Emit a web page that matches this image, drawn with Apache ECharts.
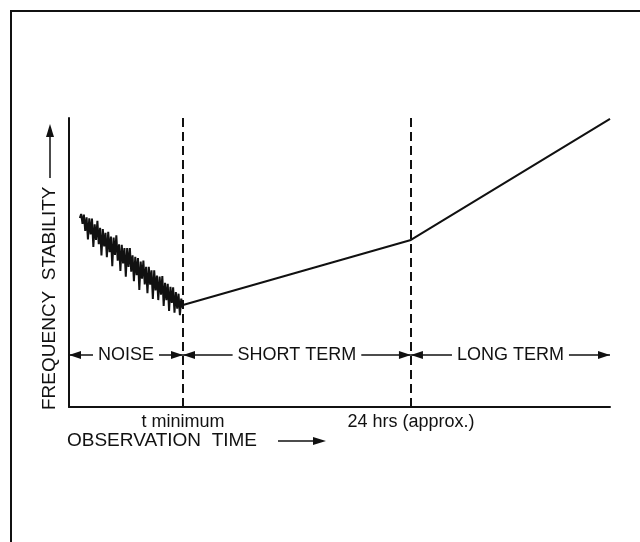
<!DOCTYPE html>
<html>
<head>
<meta charset="utf-8">
<script src="https://cdn.jsdelivr.net/npm/echarts@6/dist/echarts.min.js"></script>
<style>
  html, body { margin: 0; padding: 0; background: #fff; }
  #chart { width: 640px; height: 542px; }
</style>
</head>
<body>
<div id="chart"></div>
<script>
// boundaries on the observation-time axis (arbitrary units 0..100)
const tickValues = [21.07, 63.2];
const tickNames = ['t minimum', '24 hrs (approx.)'];

const regionNames = ['NOISE', 'SHORT TERM', 'LONG TERM'];
const regionBounds = [0, 21.07, 63.2, 100];
const regionRowY = 18;

// noisy part
const noiseX = [2.0, 2.25, 2.5, 2.75, 3.0, 3.25, 3.5, 3.75, 4.0, 4.25, 4.5, 4.75, 5.0, 5.25, 5.5, 5.75,
  6.0, 6.25, 6.5, 6.75, 7.0, 7.25, 7.5, 7.75, 8.0, 8.25, 8.5, 8.75, 9.0, 9.25, 9.5, 9.75,
  10.0, 10.25, 10.5, 10.75, 11.0, 11.25, 11.5, 11.75, 12.0, 12.25, 12.5, 12.75, 13.0, 13.25, 13.5, 13.75,
  14.0, 14.25, 14.5, 14.75, 15.0, 15.25, 15.5, 15.75, 16.0, 16.25, 16.5, 16.75, 17.0, 17.25, 17.5, 17.75,
  18.0, 18.25, 18.5, 18.75, 19.0, 19.25, 19.5, 19.75, 20.0, 20.25, 20.5, 20.75, 21.0];
const noiseY = [65.4, 66.8, 63.4, 66.6, 60.9, 65.6, 58.0, 65.3, 59.7, 65.2, 55.4, 63.2, 57.8, 64.4, 56.3, 62.0,
  52.4, 61.6, 55.6, 60.3, 51.8, 60.6, 53.6, 59.0, 48.7, 58.6, 52.6, 59.4, 50.6, 56.3, 47.1, 56.1,
  49.7, 55.0, 45.1, 55.0, 48.5, 55.0, 46.8, 52.5, 43.5, 52.0, 45.6, 51.5, 40.5, 50.3, 44.4, 50.7,
  42.4, 48.5, 39.4, 48.5, 42.3, 47.3, 37.4, 47.3, 40.3, 45.5, 37.0, 45.1, 38.9, 45.3, 35.0, 43.0,
  37.0, 42.6, 33.2, 41.6, 36.0, 41.4, 32.6, 39.8, 34.0, 39.2, 31.8, 37.5, 34.4];

// straight segments after t minimum
const trendX = [21.07, 63.2, 100];
const trendY = [35.3, 57.8, 99.7];

const FONT = '"Liberation Sans", Arial, sans-serif';
const INK = '#111';

const chart = echarts.init(document.getElementById('chart'));

const lineData = noiseX.map((x, i) => [x, noiseY[i]])
  .concat(trendX.map((x, i) => [x, trendY[i]]));

const regionLines = regionNames.map((name, i) => [
  { coord: [regionBounds[i], regionRowY], name: name },
  { coord: [regionBounds[i + 1], regionRowY] }
]);

chart.setOption({
  animation: false,
  backgroundColor: '#fff',
  textStyle: { fontFamily: FONT },
  grid: { left: 69, right: 30, top: 118, bottom: 135 },
  xAxis: {
    type: 'value',
    min: 0,
    max: 100,
    axisLine: { lineStyle: { color: INK, width: 2 } },
    axisTick: { show: false },
    splitLine: { show: false },
    axisLabel: {
      customValues: tickValues,
      formatter: (v) => tickNames[tickValues.indexOf(v)] || '',
      color: INK,
      fontSize: 18,
      fontFamily: FONT,
      margin: 6
    }
  },
  yAxis: {
    type: 'value',
    min: 0,
    max: 100,
    axisLine: { show: true, lineStyle: { color: INK, width: 2 } },
    axisTick: { show: false },
    axisLabel: { show: false },
    splitLine: { show: false }
  },
  series: [
    {
      type: 'line',
      data: lineData,
      showSymbol: false,
      lineStyle: { color: INK, width: 2 },
      markLine: {
        silent: true,
        symbol: 'none',
        label: { show: false },
        lineStyle: { color: INK, width: 2, type: [9, 5] },
        data: tickValues.map((v) => ({ xAxis: v }))
      }
    },
    {
      type: 'line',
      data: [],
      markLine: {
        silent: true,
        symbol: ['triangle', 'triangle'],
        symbolSize: [8, 12],
        symbolOffset: [[0, 6], [0, 6]],
        lineStyle: { color: INK, width: 1.5, type: 'solid' },
        label: {
          show: true,
          position: 'middle',
          distance: 0,
          verticalAlign: 'middle',
          formatter: (p) => p.name,
          color: INK,
          fontSize: 18,
          fontFamily: FONT,
          backgroundColor: '#fff',
          padding: [2, 5]
        },
        data: regionLines
      }
    }
  ],
  graphic: [
    {
      type: 'rect',
      shape: { x: 11, y: 11, width: 680, height: 580 },
      style: { fill: 'none', stroke: INK, lineWidth: 2 },
      silent: true
    },
    {
      type: 'text',
      x: 67, y: 441,
      style: { text: 'OBSERVATION  TIME', font: '19px ' + FONT, fill: INK, verticalAlign: 'middle' }
    },
    {
      type: 'line',
      shape: { x1: 278, y1: 441, x2: 318, y2: 441 },
      style: { stroke: INK, lineWidth: 1.5 }
    },
    {
      type: 'polygon',
      shape: { points: [[326, 441], [313, 437], [313, 445]] },
      style: { fill: INK }
    },
    {
      type: 'text',
      x: 50, y: 410,
      rotation: Math.PI / 2,
      style: { text: 'FREQUENCY  STABILITY', font: '19px ' + FONT, fill: INK, verticalAlign: 'middle', align: 'left' }
    },
    {
      type: 'line',
      shape: { x1: 50, y1: 178, x2: 50, y2: 134 },
      style: { stroke: INK, lineWidth: 1.5 }
    },
    {
      type: 'polygon',
      shape: { points: [[50, 124], [46, 137], [54, 137]] },
      style: { fill: INK }
    }
  ]
});
</script>
</body>
</html>
